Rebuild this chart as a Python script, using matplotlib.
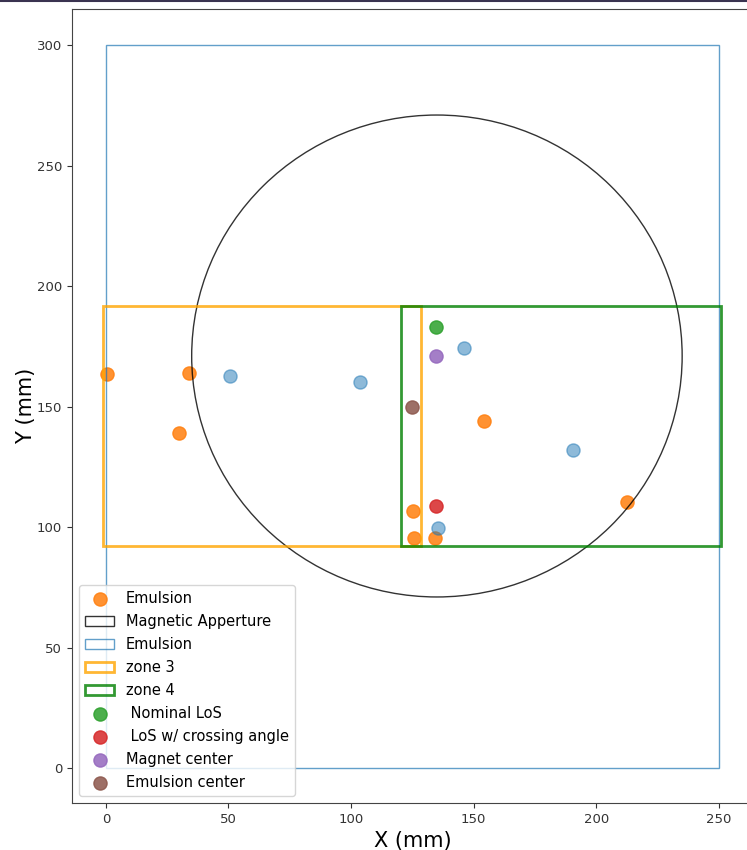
import matplotlib.pyplot as plt
from matplotlib.patches import Rectangle, Circle
from matplotlib.lines import Line2D

# emulsion hit positions (mm)
emu_x = [0.3, 34.0, 29.9, 154.2, 125.3, 125.6, 134.3, 212.6]
emu_y = [163.4, 164.0, 139.1, 144.1, 106.8, 95.3, 95.6, 110.4]

# second set of emulsion points (unlabelled)
ref_x = [50.8, 103.6, 146.2, 190.5, 135.6]
ref_y = [162.7, 160.2, 174.4, 131.9, 99.6]

# magnet aperture
mag_center = (135.0, 171.0)
mag_radius = 100.0

# emulsion film
emu_origin = (0.0, 0.0)
emu_w, emu_h = 250.0, 300.0

# zones: (x0, y0, width, height)
zone3 = (-1.2, 92.2, 129.8, 99.7)
zone4 = (120.4, 92.2, 130.4, 99.7)

# reference points
nominal_los = (134.8, 183.1)
los_crossing = (134.8, 108.7)
magnet_center = (134.8, 171.0)
emulsion_center = (124.8, 149.7)

fig = plt.figure(figsize=(7.47, 8.5), dpi=100)
ax = fig.add_axes([0.0964, 0.0553, 0.912, 0.9341])

ax.scatter(emu_x, emu_y, s=90, color='tab:orange', alpha=0.85, label='Emulsion')
ax.add_patch(Circle(mag_center, mag_radius, fill=False, edgecolor='black',
                    alpha=0.8, lw=1, label='Magnetic Apperture'))
ax.add_patch(Rectangle(emu_origin, emu_w, emu_h, fill=False, edgecolor='tab:blue',
                       alpha=0.7, lw=1, label='Emulsion'))
ax.add_patch(Rectangle(zone3[:2], zone3[2], zone3[3], fill=False, edgecolor='orange',
                       alpha=0.8, lw=2, label='zone 3'))
ax.add_patch(Rectangle(zone4[:2], zone4[2], zone4[3], fill=False, edgecolor='green',
                       alpha=0.8, lw=2, label='zone 4'))
ax.scatter(ref_x, ref_y, s=90, color='tab:blue', alpha=0.5)
ax.scatter(*nominal_los, s=90, color='tab:green', alpha=0.85, label=' Nominal LoS')
ax.scatter(*los_crossing, s=90, color='tab:red', alpha=0.85, label=' LoS w/ crossing angle')
ax.scatter(*magnet_center, s=90, color='tab:purple', alpha=0.85, label='Magnet center')
ax.scatter(*emulsion_center, s=90, color='tab:brown', alpha=0.85, label='Emulsion center')

ax.set_xlim(-13.8, 264)
ax.set_ylim(-14.5, 315)
ax.set_xlabel('X (mm)', fontsize=15)
ax.set_ylabel('Y (mm)', fontsize=15, labelpad=1)
ax.tick_params(labelsize=9.5, colors='#333333')
for sp in ax.spines.values():
    sp.set_color('#444444')

ax.legend(loc='lower left', fontsize=10.5, labelspacing=0.55)

# thin dark strip along the top edge
fig.add_artist(Line2D([0, 1], [0.999, 0.999], transform=fig.transFigure,
                      color='#3a3350', lw=1.5))

fig.savefig('out.png', dpi=100)
